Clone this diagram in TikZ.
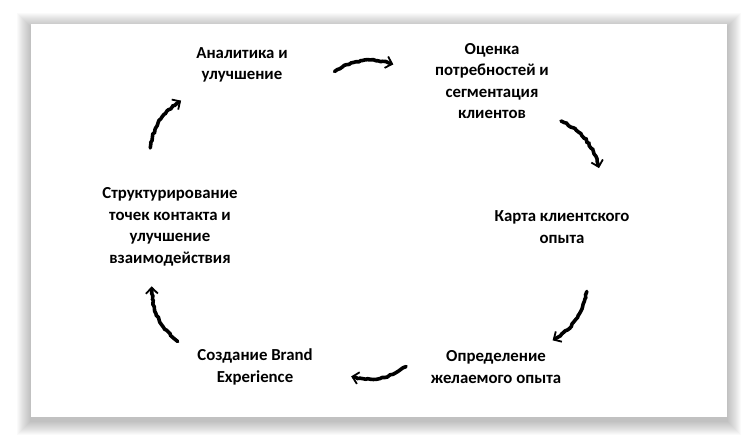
\documentclass[tikz,border=0pt]{standalone}
\usepackage{fontspec}
\setmainfont{Carlito}
\usetikzlibrary{arrows.meta,decorations.pathmorphing,calc}
\tikzset{
  every picture/.style={x=1pt, y=1pt, >=stealth}}

\begin{document}
\begin{tikzpicture}[
    phase/.style={align=center, inner sep=2pt,
      font=\bfseries\fontsize{16.8}{21.5}\selectfont},
    brush/.style={line width=3.6pt, line cap=round, bend left=25, decorate,
      decoration={random steps, segment length=2.5pt, amplitude=.7pt,
        pre length=1pt, post length=5pt},
      -{Straight Barb[length=6pt, width=12pt, line width=1.8pt]}}]
  \pgfmathsetseed{7}
  \useasboundingbox (0,0) rectangle (748,441);
  \foreach \d in {1,...,14}
    \fill[black, opacity=.018] (31-\d,20-\d) rectangle (727+\d,414+\d);
  \fill[white] (31,24) rectangle (727,417);

  \node[phase] (an) at (242,376) {Аналитика и\\улучшение};
  \node[phase] (oc) at (492,360) {Оценка\\потребностей и\\сегментация\\клиентов};
  \node[phase] (ka) at (562,214) {Карта клиентского\\опыта};
  \node[phase] (op) at (496,74) {Определение\\желаемого опыта};
  \node[phase] (so) at (255,74) {Создание Brand\\Experience};
  \node[phase] (st) at (170,214) {Структурирование\\точек контакта и\\улучшение\\взаимодействия};

  \draw[brush] ($(an.-14)!45pt!(oc.160)$) to ($(oc.160)!40pt!(an.-14)$);
  \draw[brush] ($(oc.-25)!16pt!(ka.north east)$) to ($(ka.north east)!52pt!(oc.-25)$);
  \draw[brush] ($(ka.-18)!56pt!(op.20)$) to ($(op.20)!10pt!(ka.-18)$);
  \draw[brush] ($(op.176)!23pt!(so.-15)$) to ($(so.-15)!37pt!(op.176)$);
  \draw[brush] ($(so.191)!41pt!(st.237)$) to ($(st.237)!20pt!(so.191)$);
  \draw[brush] ($(st.137)!45pt!(an.198)$) to ($(an.198)!24pt!(st.137)$);
\end{tikzpicture}
\end{document}
